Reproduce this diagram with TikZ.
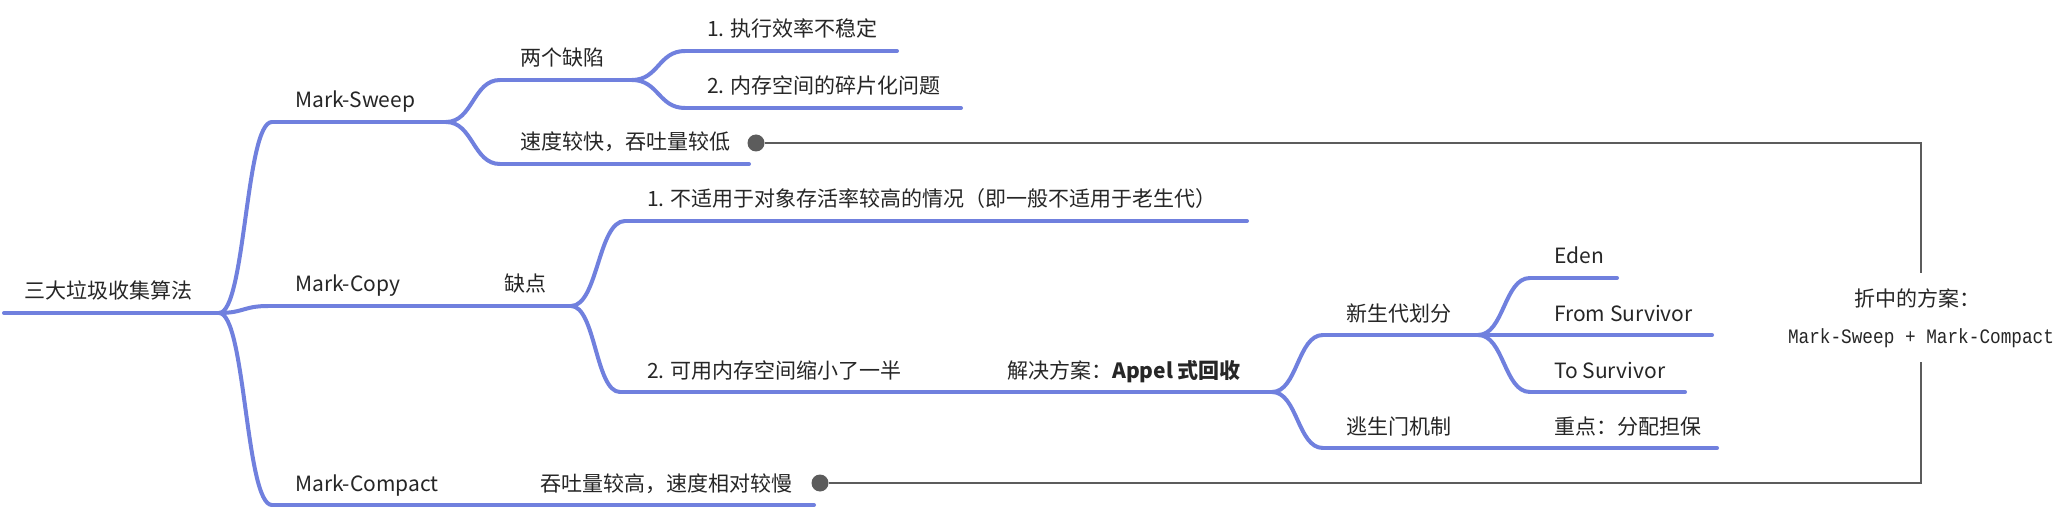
\documentclass[tikz,border=0pt]{standalone}
\usepackage{fontspec}
\setmainfont{Noto Sans CJK SC}
\newfontfamily\cmpmono{Liberation Mono}
\usetikzlibrary{calc}
\definecolor{mmblue}{RGB}{112,128,222}
\definecolor{conn}{RGB}{92,92,92}
\definecolor{txt}{RGB}{38,38,38}
\begin{document}
\begin{tikzpicture}[x=1pt,y=-1pt,
  br/.style={line width=4pt, draw=mmblue, line cap=round},
  lbl/.style={anchor=base west, inner sep=0pt, font=\fontsize{21}{25}\selectfont, text=txt},
  ln/.style={line width=2.6pt, draw=conn, line join=miter},
  dotnode/.style={circle, fill=conn, inner sep=0pt, minimum size=17pt}]
\useasboundingbox (0,0) rectangle (2064,529);
\fill[white] (0,0) rectangle (2064,529);
% underline coordinates
\coordinate (root-s) at (4,313);   \coordinate (root-e) at (219,313);
\coordinate (ms-s) at (272,122);   \coordinate (ms-e) at (446,122);
\coordinate (mc-s) at (268,306);   \coordinate (mc-e) at (571,306);
\coordinate (mp-s) at (272,505);   \coordinate (mp-e) at (814,505);
\coordinate (d2-s) at (500,80);    \coordinate (d2-e) at (632,80);
\coordinate (fast-s) at (500,164); \coordinate (fast-e) at (749,164);
\coordinate (e1-s) at (685,51);    \coordinate (e1-e) at (897,51);
\coordinate (e2-s) at (685,108);   \coordinate (e2-e) at (961,108);
\coordinate (c1-s) at (625,221);   \coordinate (c1-e) at (1247,221);
\coordinate (c2-s) at (620,392);   \coordinate (c2-e) at (1272,392);
\coordinate (xs-s) at (1323,335);  \coordinate (xs-e) at (1478,335);
\coordinate (ts-s) at (1323,448);  \coordinate (ts-e) at (1717,448);
\coordinate (ed-s) at (1530,278);  \coordinate (ed-e) at (1617,278);
\coordinate (fr-e) at (1712,335);
\coordinate (to-s) at (1530,392);  \coordinate (to-e) at (1685,392);
\coordinate (gapT) at (1921,273);  \coordinate (gapB) at (1921,362);
% underlines
\foreach \n in {root,ms,mc,mp,d2,fast,e1,e2,c1,c2,xs,ts,ed,to}
  \draw[br] (\n-s) -- (\n-e);
\draw[br] (xs-e) -- (fr-e);
% curved connectors
\foreach \a/\b in {root-e/ms-s, root-e/mc-s, root-e/mp-s, ms-e/d2-s, ms-e/fast-s,
                   d2-e/e1-s, d2-e/e2-s, mc-e/c1-s, mc-e/c2-s, c2-e/xs-s, c2-e/ts-s,
                   xs-e/ed-s, xs-e/to-s}
  \draw[br] let \p1=(\a), \p2=(\b) in
    (\p1) .. controls ({(\x1+\x2)/2},\y1) and ({(\x1+\x2)/2},\y2) .. (\p2);
% labels
\node[lbl] (root) at (24,299) {三大垃圾收集算法};
\node[lbl] (ms) at (295,108) {Mark-Sweep};
\node[lbl] (mc) at (295,292) {Mark-Copy};
\node[lbl] (mp) at (295,491) {Mark-Compact};
\node[lbl] (qd) at (504,292) {缺点};
\node[lbl] (mpc) at (540,491) {吞吐量较高，速度相对较慢};
\node[lbl] (d2) at (520,66) {两个缺陷};
\node[lbl] (fast) at (520,150) {速度较快，吞吐量较低};
\node[lbl] (e1) at (707,37) {1. 执行效率不稳定};
\node[lbl] (e2) at (707,94) {2. 内存空间的碎片化问题};
\node[lbl] (c1) at (647,207) {1. 不适用于对象存活率较高的情况（即一般不适用于老生代）};
\node[lbl] (c2) at (647,378) {2. 可用内存空间缩小了一半};
\node[lbl] (sol) at (1007,378) {解决方案：\textbf{Appel 式回收}};
\node[lbl] (xs) at (1346,321) {新生代划分};
\node[lbl] (ts) at (1346,434) {逃生门机制};
\node[lbl] (ed) at (1554,264) {Eden};
\node[lbl] (fr) at (1554,321) {From Survivor};
\node[lbl] (to) at (1554,378) {To Survivor};
\node[lbl] (zd) at (1554,434) {重点：分配担保};
% compromise relation
\node[dotnode] (dot1) at (756,143) {};
\node[dotnode] (dot2) at (820,483) {};
\draw[ln] (dot1.east) -| (gapT);
\draw[ln] (dot2.east) -| (gapB);
\node[inner sep=0pt, font=\fontsize{21}{25}\selectfont, text=txt, anchor=base] (cmp1) at (1917,306) {折中的方案：};
\node[inner sep=0pt, font=\cmpmono\fontsize{20.5}{24}\selectfont, text=txt, anchor=base] (cmp2) at (1921,343) {\scalebox{0.865}[1]{Mark-Sweep + Mark-Compact}};
\end{tikzpicture}
\end{document}
